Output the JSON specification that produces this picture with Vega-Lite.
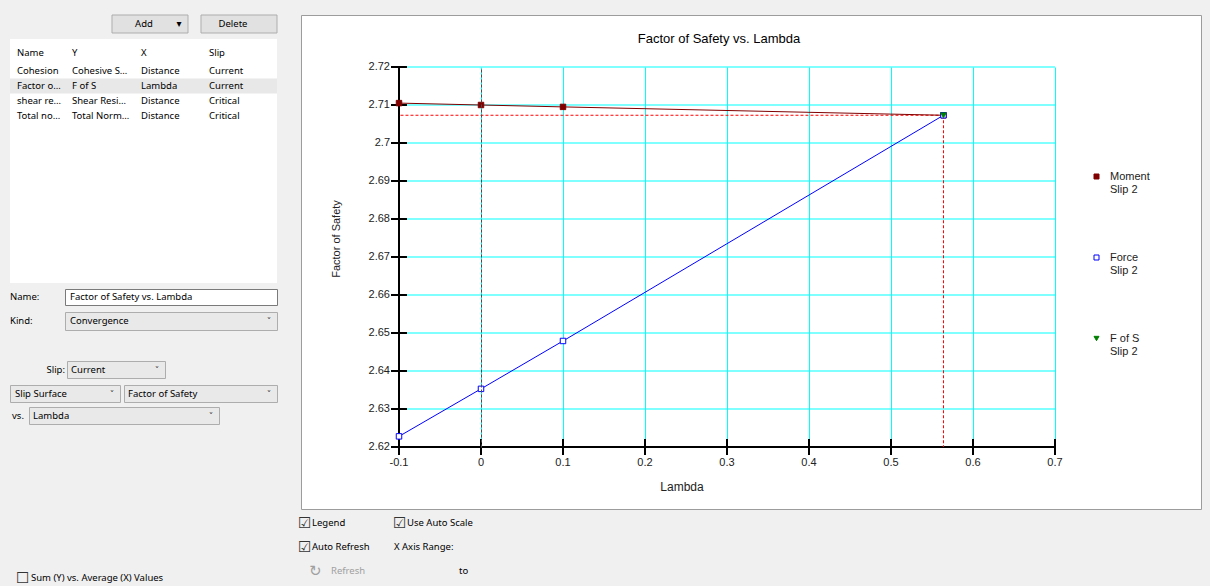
{
  "$schema": "https://vega.github.io/schema/vega-lite/v6.json",
  "background": "#f0f0f0",
  "padding": {"left": 9, "top": 14, "right": 12, "bottom": 2},
  "spacing": 20,
  "datasets": {
    "plots": [
      {"Name": "Cohesion", "Y": "Cohesive S…", "X": "Distance", "Slip": "Current"},
      {"Name": "Factor o…", "Y": "F of S", "X": "Lambda", "Slip": "Current"},
      {"Name": "shear re…", "Y": "Shear Resi…", "X": "Distance", "Slip": "Critical"},
      {"Name": "Total no…", "Y": "Total Norm…", "X": "Distance", "Slip": "Critical"}
    ],
    "convergence": [
      {"series": "Moment", "lambda": -0.1, "fs": 2.7105},
      {"series": "Moment", "lambda": 0, "fs": 2.71},
      {"series": "Moment", "lambda": 0.1, "fs": 2.7095},
      {"series": "Moment", "lambda": 0.564, "fs": 2.7073},
      {"series": "Force", "lambda": -0.1, "fs": 2.6228},
      {"series": "Force", "lambda": 0, "fs": 2.6353},
      {"series": "Force", "lambda": 0.1, "fs": 2.6479},
      {"series": "Force", "lambda": 0.564, "fs": 2.7073},
      {"series": "F of S", "lambda": 0.564, "fs": 2.7073}
    ]
  },
  "hconcat": [
    {
      "vconcat": [
        {
          "width": 267, "height": 18,
          "data": {"values": [{"button": "Add", "menu": "▾"}, {"button": "Delete", "menu": ""}]},
          "encoding": {
            "x": {"field": "button", "type": "nominal", "sort": null, "axis": null,
                  "scale": {"type": "band", "paddingInner": 0.146, "paddingOuter": 0.573, "align": 1}}
          },
          "layer": [
            {"mark": {"type": "rect", "fill": "#e1e1e1", "stroke": "#adadad", "strokeWidth": 1}},
            {"mark": {"type": "text", "font": "Noto Sans", "fontSize": 9.5, "color": "#000", "dx": -6},
             "encoding": {"text": {"field": "button"}}},
            {"mark": {"type": "text", "font": "DejaVu Sans", "fontSize": 10, "color": "#000", "dx": 29},
             "encoding": {"text": {"field": "menu"}}}
          ]
        },
        {
          "vconcat": [
            {
              "hconcat": [
                {
                  "width": 57, "height": 90,
                  "view": {"fill": "white", "stroke": null},
                  "title": {"text": "Name", "anchor": "start", "frame": "group", "offset": -23, "dx": 7, "baseline": "middle", "font": "Noto Sans", "fontSize": 9.5, "fontWeight": "normal", "color": "#000"},
                  "data": {"name": "plots"},
                  "transform": [{"fold": ["Name"], "as": ["column", "cell"]}],
                  "encoding": {
                    "y": {"field": "Name", "type": "nominal", "sort": null, "axis": null,
                          "scale": {"paddingInner": 0, "paddingOuter": 1, "align": 0.8167}}
                  },
                  "layer": [
                    {"mark": {"type": "rect"},
                     "encoding": {"fill": {"condition": {"test": "datum.Name === 'Factor o…'", "value": "#e8e8e8"}, "value": "transparent"}}},
                    {"mark": {"type": "text", "align": "left", "dx": 7, "font": "Noto Sans", "fontSize": 9.5, "color": "#000"},
                     "encoding": {"text": {"field": "cell"}, "x": {"field": "column", "type": "nominal", "axis": null, "scale": {"type": "point", "align": 0}}}}
                  ]
                },
                {
                  "width": 68, "height": 90,
                  "view": {"fill": "white", "stroke": null},
                  "title": {"text": "Y", "anchor": "start", "frame": "group", "offset": -23, "dx": 5, "baseline": "middle", "font": "Noto Sans", "fontSize": 9.5, "fontWeight": "normal", "color": "#000"},
                  "data": {"name": "plots"},
                  "transform": [{"fold": ["Y"], "as": ["column", "cell"]}],
                  "encoding": {
                    "y": {"field": "Name", "type": "nominal", "sort": null, "axis": null,
                          "scale": {"paddingInner": 0, "paddingOuter": 1, "align": 0.8167}}
                  },
                  "layer": [
                    {"mark": {"type": "rect"},
                     "encoding": {"fill": {"condition": {"test": "datum.Name === 'Factor o…'", "value": "#e8e8e8"}, "value": "transparent"}}},
                    {"mark": {"type": "text", "align": "left", "dx": 5, "font": "Noto Sans", "fontSize": 9.5, "color": "#000"},
                     "encoding": {"text": {"field": "cell"}, "x": {"field": "column", "type": "nominal", "axis": null, "scale": {"type": "point", "align": 0}}}}
                  ]
                },
                {
                  "width": 68, "height": 90,
                  "view": {"fill": "white", "stroke": null},
                  "title": {"text": "X", "anchor": "start", "frame": "group", "offset": -23, "dx": 6, "baseline": "middle", "font": "Noto Sans", "fontSize": 9.5, "fontWeight": "normal", "color": "#000"},
                  "data": {"name": "plots"},
                  "transform": [{"fold": ["X"], "as": ["column", "cell"]}],
                  "encoding": {
                    "y": {"field": "Name", "type": "nominal", "sort": null, "axis": null,
                          "scale": {"paddingInner": 0, "paddingOuter": 1, "align": 0.8167}}
                  },
                  "layer": [
                    {"mark": {"type": "rect"},
                     "encoding": {"fill": {"condition": {"test": "datum.Name === 'Factor o…'", "value": "#e8e8e8"}, "value": "transparent"}}},
                    {"mark": {"type": "text", "align": "left", "dx": 6, "font": "Noto Sans", "fontSize": 9.5, "color": "#000"},
                     "encoding": {"text": {"field": "cell"}, "x": {"field": "column", "type": "nominal", "axis": null, "scale": {"type": "point", "align": 0}}}}
                  ]
                },
                {
                  "width": 74, "height": 90,
                  "view": {"fill": "white", "stroke": null},
                  "title": {"text": "Slip", "anchor": "start", "frame": "group", "offset": -23, "dx": 6, "baseline": "middle", "font": "Noto Sans", "fontSize": 9.5, "fontWeight": "normal", "color": "#000"},
                  "data": {"name": "plots"},
                  "transform": [{"fold": ["Slip"], "as": ["column", "cell"]}],
                  "encoding": {
                    "y": {"field": "Name", "type": "nominal", "sort": null, "axis": null,
                          "scale": {"paddingInner": 0, "paddingOuter": 1, "align": 0.8167}}
                  },
                  "layer": [
                    {"mark": {"type": "rect"},
                     "encoding": {"fill": {"condition": {"test": "datum.Name === 'Factor o…'", "value": "#e8e8e8"}, "value": "transparent"}}},
                    {"mark": {"type": "text", "align": "left", "dx": 6, "font": "Noto Sans", "fontSize": 9.5, "color": "#000"},
                     "encoding": {"text": {"field": "cell"}, "x": {"field": "column", "type": "nominal", "axis": null, "scale": {"type": "point", "align": 0}}}}
                  ]
                }
              ],
              "spacing": 0,
              "bounds": "flush"
            },
            {"width": 267, "height": 154, "view": {"fill": "white", "stroke": null},
             "data": {"values": [{"gap": ""}]}, "mark": {"type": "text"}, "encoding": {"text": {"field": "gap"}}}
          ],
          "spacing": 0
        },
        {
          "hconcat": [
            {"width": 55, "height": 16,
             "data": {"values": [{"setting": "Name:"}]},
             "mark": {"type": "text", "align": "left", "font": "Noto Sans", "fontSize": 9.5, "color": "#000"},
             "encoding": {"text": {"field": "setting"}, "x": {"field": "setting", "type": "nominal", "axis": null, "scale": {"type": "point", "align": 0}}}},
            {"width": 212, "height": 16,
             "view": {"fill": "white", "stroke": "#7a7a7a"},
             "data": {"values": [{"value": "Factor of Safety vs. Lambda"}]},
             "mark": {"type": "text", "align": "left", "dx": 5, "font": "Noto Sans", "fontSize": 9.5, "color": "#000"},
             "encoding": {"text": {"field": "value"}, "x": {"field": "value", "type": "nominal", "axis": null, "scale": {"type": "point", "align": 0}}}}
          ],
          "spacing": 0, "bounds": "flush"
        },
        {
          "hconcat": [
            {"width": 55, "height": 18,
             "data": {"values": [{"setting": "Kind:"}]},
             "mark": {"type": "text", "align": "left", "font": "Noto Sans", "fontSize": 9.5, "color": "#000"},
             "encoding": {"text": {"field": "setting"}, "x": {"field": "setting", "type": "nominal", "axis": null, "scale": {"type": "point", "align": 0}}}},
            {"width": 212, "height": 18,
             "view": {"fill": "#e9e9e9", "stroke": "#adadad"},
             "data": {"values": [{"value": "Convergence", "arrow": "˅"}]},
             "layer": [
               {"mark": {"type": "text", "align": "left", "dx": 5, "font": "Noto Sans", "fontSize": 9.5, "color": "#000"},
                "encoding": {"text": {"field": "value"}, "x": {"field": "value", "type": "nominal", "axis": null, "scale": {"type": "point", "align": 0}}}},
               {"mark": {"type": "text", "align": "center", "dx": -8, "font": "DejaVu Sans", "fontSize": 9, "color": "#333"},
                "encoding": {"text": {"field": "arrow"}, "x": {"field": "arrow", "type": "nominal", "axis": null, "scale": {"type": "point", "align": 1}}}}
             ],
             "resolve": {"scale": {"x": "independent"}}}
          ],
          "spacing": 0, "bounds": "flush"
        },
        {"width": 1, "height": 19, "data": {"values": [{"gap": ""}]}, "mark": {"type": "text"}, "encoding": {"text": {"field": "gap"}}},
        {
          "hconcat": [
            {"width": 57, "height": 17,
             "data": {"values": [{"setting": "Slip:"}]},
             "mark": {"type": "text", "align": "right", "dx": -2, "font": "Noto Sans", "fontSize": 9.5, "color": "#000"},
             "encoding": {"text": {"field": "setting"}, "x": {"field": "setting", "type": "nominal", "axis": null, "scale": {"type": "point", "align": 1}}}},
            {"width": 98, "height": 17,
             "view": {"fill": "#e9e9e9", "stroke": "#adadad"},
             "data": {"values": [{"value": "Current", "arrow": "˅"}]},
             "layer": [
               {"mark": {"type": "text", "align": "left", "dx": 4, "font": "Noto Sans", "fontSize": 9.5, "color": "#000"},
                "encoding": {"text": {"field": "value"}, "x": {"field": "value", "type": "nominal", "axis": null, "scale": {"type": "point", "align": 0}}}},
               {"mark": {"type": "text", "align": "center", "dx": -8, "font": "DejaVu Sans", "fontSize": 9, "color": "#333"},
                "encoding": {"text": {"field": "arrow"}, "x": {"field": "arrow", "type": "nominal", "axis": null, "scale": {"type": "point", "align": 1}}}}
             ],
             "resolve": {"scale": {"x": "independent"}}}
          ],
          "spacing": 0, "bounds": "flush"
        },
        {
          "vconcat": [
            {
              "hconcat": [
                {"width": 110, "height": 17,
                 "view": {"fill": "#e9e9e9", "stroke": "#adadad"},
                 "data": {"values": [{"value": "Slip Surface", "arrow": "˅"}]},
                 "layer": [
                   {"mark": {"type": "text", "align": "left", "dx": 5, "font": "Noto Sans", "fontSize": 9.5, "color": "#000"},
                    "encoding": {"text": {"field": "value"}, "x": {"field": "value", "type": "nominal", "axis": null, "scale": {"type": "point", "align": 0}}}},
                   {"mark": {"type": "text", "align": "center", "dx": -8, "font": "DejaVu Sans", "fontSize": 9, "color": "#333"},
                    "encoding": {"text": {"field": "arrow"}, "x": {"field": "arrow", "type": "nominal", "axis": null, "scale": {"type": "point", "align": 1}}}}
                 ],
                 "resolve": {"scale": {"x": "independent"}}},
                {"width": 153, "height": 17,
                 "view": {"fill": "#e9e9e9", "stroke": "#adadad"},
                 "data": {"values": [{"value": "Factor of Safety", "arrow": "˅"}]},
                 "layer": [
                   {"mark": {"type": "text", "align": "left", "dx": 4, "font": "Noto Sans", "fontSize": 9.5, "color": "#000"},
                    "encoding": {"text": {"field": "value"}, "x": {"field": "value", "type": "nominal", "axis": null, "scale": {"type": "point", "align": 0}}}},
                   {"mark": {"type": "text", "align": "center", "dx": -8, "font": "DejaVu Sans", "fontSize": 9, "color": "#333"},
                    "encoding": {"text": {"field": "arrow"}, "x": {"field": "arrow", "type": "nominal", "axis": null, "scale": {"type": "point", "align": 1}}}}
                 ],
                 "resolve": {"scale": {"x": "independent"}}}
              ],
              "spacing": 4, "bounds": "flush"
            },
            {
              "hconcat": [
                {"width": 19, "height": 17,
                 "data": {"values": [{"setting": "vs."}]},
                 "mark": {"type": "text", "align": "left", "dx": 2, "font": "Noto Sans", "fontSize": 9.5, "color": "#000"},
                 "encoding": {"text": {"field": "setting"}, "x": {"field": "setting", "type": "nominal", "axis": null, "scale": {"type": "point", "align": 0}}}},
                {"width": 190, "height": 17,
                 "view": {"fill": "#e9e9e9", "stroke": "#adadad"},
                 "data": {"values": [{"value": "Lambda", "arrow": "˅"}]},
                 "layer": [
                   {"mark": {"type": "text", "align": "left", "dx": 4, "font": "Noto Sans", "fontSize": 9.5, "color": "#000"},
                    "encoding": {"text": {"field": "value"}, "x": {"field": "value", "type": "nominal", "axis": null, "scale": {"type": "point", "align": 0}}}},
                   {"mark": {"type": "text", "align": "center", "dx": -8, "font": "DejaVu Sans", "fontSize": 9, "color": "#333"},
                    "encoding": {"text": {"field": "arrow"}, "x": {"field": "arrow", "type": "nominal", "axis": null, "scale": {"type": "point", "align": 1}}}}
                 ],
                 "resolve": {"scale": {"x": "independent"}}}
              ],
              "spacing": 0, "bounds": "flush"
            }
          ],
          "spacing": 3
        },
        {"width": 1, "height": 135, "data": {"values": [{"gap": ""}]}, "mark": {"type": "text"}, "encoding": {"text": {"field": "gap"}}},
        {
          "width": 200, "height": 16,
          "data": {"values": [{"setting": "Sum (Y) vs. Average (X) Values"}]},
          "encoding": {"x": {"field": "setting", "type": "nominal", "axis": null, "scale": {"type": "point", "align": 0}}},
          "layer": [
            {"mark": {"type": "text", "text": "☐", "align": "left", "dx": 6, "font": "DejaVu Sans", "fontSize": 15, "color": "#333"}},
            {"mark": {"type": "text", "align": "left", "dx": 21, "font": "Noto Sans", "fontSize": 9.5, "color": "#000"},
             "encoding": {"text": {"field": "setting"}}}
          ]
        }
      ],
      "spacing": 5
    },
    {
      "vconcat": [
        {
          "width": 900, "height": 494,
          "view": {"fill": "white", "stroke": "#9c9c9c"},
          "title": {"text": "Factor of Safety vs. Lambda", "font": "Liberation Sans", "fontSize": 13, "fontWeight": "normal", "color": "#000", "anchor": "middle", "frame": "group", "offset": -37, "baseline": "middle", "dx": -32},
          "data": {"name": "convergence"},
          "layer": [
            {
              "transform": [{"filter": "datum.series === 'F of S'"}],
              "mark": {"type": "rule", "color": "#ff0000", "strokeDash": [3, 2], "strokeWidth": 1},
              "encoding": {
                "x": {"field": "lambda", "type": "quantitative", "scale": {"domain": [-0.1, 0.7], "range": [98, 754], "nice": false, "zero": false},
                      "axis": {"orient": "top", "values": [-0.1, 0, 0.1, 0.2, 0.3, 0.4, 0.5, 0.6, 0.7], "grid": true, "gridColor": "#00ffff", "gridWidth": 1, "gridOpacity": 1, "domain": false, "ticks": false, "labels": false, "title": null}},
                "x2": {"datum": -0.1},
                "y": {"field": "fs", "type": "quantitative", "scale": {"domain": [2.62, 2.72], "range": [432, 52], "nice": false, "zero": false}, "axis": null}
              }
            },
            {
              "transform": [{"filter": "datum.series === 'F of S'"}],
              "mark": {"type": "rule", "color": "#ff0000", "strokeDash": [3, 2], "strokeWidth": 1},
              "encoding": {
                "x": {"field": "lambda", "type": "quantitative", "scale": {"domain": [-0.1, 0.7], "range": [98, 754], "nice": false, "zero": false},
                      "axis": {"orient": "top", "values": [0], "grid": true, "gridColor": "#4a4a4a", "gridDash": [3, 2], "gridWidth": 1, "gridOpacity": 1, "domain": false, "ticks": false, "labels": false, "title": null, "zindex": 1}},
                "y": {"field": "fs", "type": "quantitative", "scale": {"domain": [2.62, 2.72], "range": [432, 52], "nice": false, "zero": false}, "axis": null},
                "y2": {"datum": 2.62}
              }
            },
            {
              "transform": [{"filter": "datum.series !== 'F of S'"}],
              "mark": {"type": "line", "strokeWidth": 1},
              "encoding": {
                "x": {"field": "lambda", "type": "quantitative", "scale": {"domain": [-0.1, 0.7], "range": [98, 754], "nice": false, "zero": false},
                      "axis": {"orient": "bottom", "offset": -62, "translate": 0, "values": [-0.1, 0, 0.1, 0.2, 0.3, 0.4, 0.5, 0.6, 0.7], "format": "~g", "labelExpr": "replace(datum.label, '−', '-')", "grid": false,
                               "domainColor": "#000", "domainWidth": 2, "tickColor": "#000", "tickWidth": 2, "tickSize": 8,
                               "labelFont": "Liberation Sans", "labelFontSize": 11, "labelColor": "#222", "labelPadding": 2, "labelFlush": false, "labelOverlap": false,
                               "title": "Lambda", "titleFont": "Liberation Sans", "titleFontSize": 12, "titleFontWeight": "normal", "titleColor": "#222",
                               "titleX": 381, "titleY": 40, "titleBaseline": "middle", "titleAlign": "center"}},
                "y": {"field": "fs", "type": "quantitative", "scale": {"domain": [2.62, 2.72], "range": [432, 52], "nice": false, "zero": false},
                      "axis": {"orient": "left", "offset": -98, "translate": 0, "values": [2.62, 2.63, 2.64, 2.65, 2.66, 2.67, 2.68, 2.69, 2.7, 2.71, 2.72], "format": "~g",
                               "grid": true, "gridColor": "#00ffff", "gridWidth": 1, "gridOpacity": 1,
                               "domainColor": "#000", "domainWidth": 2, "tickColor": "#000", "tickWidth": 2, "tickSize": 8,
                               "labelFont": "Liberation Sans", "labelFontSize": 11, "labelColor": "#222", "labelPadding": 1, "labelFlush": false, "labelOverlap": false,
                               "title": "Factor of Safety", "titleFont": "Liberation Sans", "titleFontSize": 11, "titleFontWeight": "normal", "titleColor": "#222",
                               "titleX": -62, "titleY": 224, "titleAngle": 270, "titleBaseline": "middle", "titleAlign": "center"}},
                "color": {"field": "series", "type": "nominal", "scale": {"domain": ["Moment", "Force"], "range": ["#800000", "#0000ff"]}, "legend": null}
              }
            },
            {
              "mark": {"type": "point", "size": 30, "strokeWidth": 1, "opacity": 1},
              "encoding": {
                "x": {"field": "lambda", "type": "quantitative", "scale": {"domain": [-0.1, 0.7], "range": [98, 754], "nice": false, "zero": false},
                      "axis": {"orient": "bottom", "offset": -62, "translate": 0, "values": [-0.1, 0, 0.1, 0.2, 0.3, 0.4, 0.5, 0.6, 0.7], "grid": false, "domain": false, "labels": false, "ticks": true, "tickSize": -8, "tickColor": "#000", "tickWidth": 2, "title": null}},
                "y": {"field": "fs", "type": "quantitative", "scale": {"domain": [2.62, 2.72], "range": [432, 52], "nice": false, "zero": false},
                      "axis": {"orient": "left", "offset": -98, "translate": 0, "values": [2.62, 2.63, 2.64, 2.65, 2.66, 2.67, 2.68, 2.69, 2.7, 2.71, 2.72], "grid": false, "domain": false, "labels": false, "ticks": true, "tickSize": -8, "tickColor": "#000", "tickWidth": 2, "title": null}},
                "shape": {"field": "series", "type": "nominal", "scale": {"domain": ["Moment", "Force", "F of S"], "range": ["square", "square", "triangle-down"]},
                          "legend": {"title": null, "orient": "none", "legendX": 1081, "legendY": 156, "padding": 0, "rowPadding": 56, "labelExpr": "[datum.label, 'Slip 2']", "labelFont": "Liberation Sans", "labelFontSize": 11, "labelColor": "#222", "labelOffset": 8, "symbolSize": 25, "symbolStrokeWidth": 1}},
                "fill": {"field": "series", "type": "nominal", "scale": {"domain": ["Moment", "Force", "F of S"], "range": ["#800000", "#ffffff", "#008000"]},
                         "legend": {"title": null, "orient": "none", "legendX": 1081, "legendY": 156, "padding": 0, "rowPadding": 56, "labelExpr": "[datum.label, 'Slip 2']", "labelFont": "Liberation Sans", "labelFontSize": 11, "labelColor": "#222", "labelOffset": 8, "symbolSize": 25, "symbolStrokeWidth": 1}},
                "stroke": {"field": "series", "type": "nominal", "scale": {"domain": ["Moment", "Force", "F of S"], "range": ["#800000", "#0000ff", "#008000"]},
                           "legend": {"title": null, "orient": "none", "legendX": 1081, "legendY": 156, "padding": 0, "rowPadding": 56, "labelExpr": "[datum.label, 'Slip 2']", "labelFont": "Liberation Sans", "labelFontSize": 11, "labelColor": "#222", "labelOffset": 8, "symbolSize": 25, "symbolStrokeWidth": 1}}
              }
            }
          ],
          "resolve": {"axis": {"x": "independent", "y": "independent"}}
        },
        {
          "width": 95, "height": 47.5,
          "data": {"values": [
            {"col": "left", "row": "top", "widget": "checkbox", "label": "Legend"},
            {"col": "right", "row": "top", "widget": "checkbox", "label": "Use Auto Scale"},
            {"col": "left", "row": "middle", "widget": "checkbox", "label": "Auto Refresh"},
            {"col": "right", "row": "middle", "widget": "label", "label": "X Axis Range:"},
            {"col": "left", "row": "bottom", "widget": "button", "label": "Refresh"},
            {"col": "right", "row": "bottom", "widget": "range", "label": "to"}
          ]},
          "encoding": {
            "x": {"field": "col", "type": "nominal", "sort": null, "axis": null, "scale": {"type": "point", "padding": 0}},
            "y": {"field": "row", "type": "nominal", "sort": null, "axis": null, "scale": {"type": "point", "padding": 0}}
          },
          "layer": [
            {"transform": [{"filter": "datum.widget === 'checkbox'"}],
             "mark": {"type": "text", "text": "☑", "align": "left", "dx": -3, "font": "DejaVu Sans", "fontSize": 15, "color": "#333"}},
            {"transform": [{"filter": "datum.widget === 'checkbox'"}],
             "mark": {"type": "text", "align": "left", "dx": 11, "font": "Noto Sans", "fontSize": 9.5, "color": "#000"},
             "encoding": {"text": {"field": "label"}}},
            {"transform": [{"filter": "datum.widget === 'label'"}],
             "mark": {"type": "text", "align": "left", "dx": -2, "font": "Noto Sans", "fontSize": 9.5, "color": "#000"},
             "encoding": {"text": {"field": "label"}}},
            {"transform": [{"filter": "datum.widget === 'button'"}],
             "mark": {"type": "text", "text": "↻", "align": "left", "dx": 8, "font": "DejaVu Sans", "fontSize": 15, "color": "#a0a0a0"}},
            {"transform": [{"filter": "datum.widget === 'button'"}],
             "mark": {"type": "text", "align": "left", "dx": 30, "font": "Noto Sans", "fontSize": 9.5, "color": "#a0a0a0"},
             "encoding": {"text": {"field": "label"}}},
            {"transform": [{"filter": "datum.widget === 'range'"}],
             "mark": {"type": "text", "align": "left", "dx": 63, "font": "Noto Sans", "fontSize": 9.5, "color": "#000"},
             "encoding": {"text": {"field": "label"}}}
          ]
        }
      ],
      "spacing": 14,
      "bounds": "flush"
    }
  ],
  "config": {
    "view": {"stroke": null},
    "font": "Liberation Sans"
  }
}
